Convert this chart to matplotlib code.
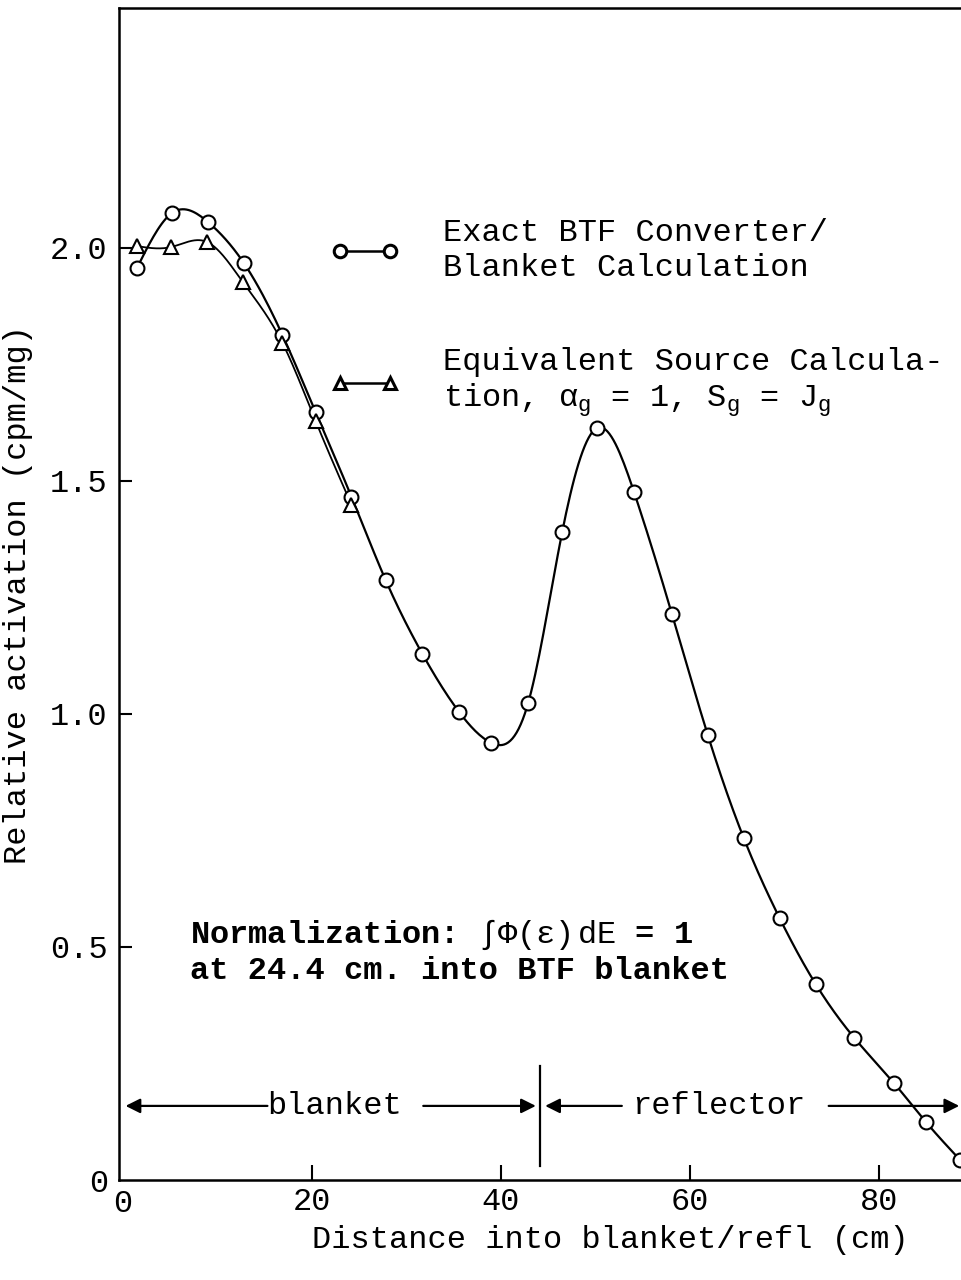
import numpy as np
import matplotlib
matplotlib.use("Agg")
import matplotlib.pyplot as plt

# exact BTF converter/blanket calculation (circles)
exact_x = [1.5, 5.2, 9.0, 12.8, 16.9, 20.4, 24.2, 27.8, 31.7, 35.6, 39.0, 42.9,
           46.5, 50.2, 54.1, 58.1, 61.9, 65.7, 69.5, 73.3, 77.4, 81.6, 85.0, 88.6]
exact_y = [1.957, 2.075, 2.056, 1.968, 1.813, 1.648, 1.466, 1.288, 1.129, 1.004,
           0.938, 1.024, 1.391, 1.614, 1.476, 1.215, 0.955, 0.734, 0.562, 0.421,
           0.305, 0.208, 0.124, 0.043]

# equivalent source calculation (triangles)
equiv_x = [1.5, 5.1, 8.9, 12.7, 16.9, 20.4, 24.2]
equiv_y = [2.004, 2.002, 2.013, 1.927, 1.796, 1.629, 1.449]

x_ticks = [20, 40, 60, 80]
y_ticks = [0, 0.5, 1.0, 1.5, 2.0]
y_tick_labels = ["0", "0.5", "1.0", "1.5", "2.0"]
blanket_edge = 44.2
region_y = 0.159

FS = 23
plt.rcParams['font.family'] = ['Liberation Mono', 'DejaVu Sans']
plt.rcParams['mathtext.fontset'] = 'custom'
plt.rcParams['mathtext.rm'] = 'Liberation Mono'
plt.rcParams['mathtext.it'] = 'Liberation Mono'


def spline(x, y, n=400):
    # natural cubic spline through the points
    x = np.asarray(x, float)
    y = np.asarray(y, float)
    k = len(x)
    h = np.diff(x)
    A = np.zeros((k, k))
    b = np.zeros(k)
    A[0, 0] = A[-1, -1] = 1
    for i in range(1, k - 1):
        A[i, i - 1] = h[i - 1]
        A[i, i] = 2 * (h[i - 1] + h[i])
        A[i, i + 1] = h[i]
        b[i] = 6 * ((y[i + 1] - y[i]) / h[i] - (y[i] - y[i - 1]) / h[i - 1])
    m = np.linalg.solve(A, b)
    xs = np.linspace(x[0], x[-1], n)
    j = np.clip(np.searchsorted(x, xs) - 1, 0, k - 2)
    t0 = x[j + 1] - xs
    t1 = xs - x[j]
    hj = h[j]
    ys = (m[j] * t0 ** 3 + m[j + 1] * t1 ** 3) / (6 * hj) \
        + (y[j] / hj - m[j] * hj / 6) * t0 + (y[j + 1] / hj - m[j + 1] * hj / 6) * t1
    return xs, ys


fig = plt.figure(figsize=(9.62, 12.8), dpi=100)
ax = fig.add_axes([119 / 962, 1 - 1180 / 1280, 1 - 119 / 962, (1180 - 8) / 1280])

sx, sy = spline(exact_x, exact_y)
ax.plot(sx, sy, color='black', lw=1.6)
tx, ty = spline(equiv_x, equiv_y)
ax.plot(tx, ty, color='black', lw=1.3)
ax.plot(exact_x, exact_y, 'o', ms=10, mfc='white', mec='black', mew=1.5)
ax.plot(equiv_x, equiv_y, '^', ms=10, mfc='white', mec='black', mew=1.5)

# legend
h1, = ax.plot([], [], '-o', color='black', lw=1.8, ms=9, mfc='white', mew=2.2)
h2, = ax.plot([], [], '-^', color='black', lw=1.8, ms=9, mfc='white', mew=2.2)
ax.legend([h1, h2],
          ["Exact BTF Converter/\nBlanket Calculation",
           "Equivalent Source Calcula-\ntion, $\\alpha_g$ = 1, $S_g$ = $J_g$"],
          numpoints=2, frameon=False, fontsize=FS, handlelength=2.17,
          handletextpad=1.36, labelspacing=2.0,
          loc='upper left', bbox_to_anchor=(0.2166, 0.845))

ax.text(7.1, 0.49, "Normalization: $\\int\\Phi(\\epsilon)\\,dE$ = 1",
        fontsize=FS, fontweight='bold', va='bottom')
ax.text(7.1, 0.48, "at 24.4 cm. into BTF blanket",
        fontsize=FS, fontweight='bold', va='top')

# blanket / reflector regions
arrow = dict(arrowstyle='-|>', color='black', lw=1.6, mutation_scale=22)
ax.text(22.4, region_y, "blanket", fontsize=FS, ha='center', va='center')
ax.annotate('', xy=(0, region_y), xytext=(15.6, region_y), arrowprops=arrow)
ax.annotate('', xy=(blanket_edge - 0.2, region_y), xytext=(31.5, region_y), arrowprops=arrow)
ax.text(63.1, region_y, "reflector", fontsize=FS, ha='center', va='center')
ax.annotate('', xy=(blanket_edge + 0.2, region_y), xytext=(53.1, region_y), arrowprops=arrow)
ax.annotate('', xy=(88.8, region_y), xytext=(74.4, region_y), arrowprops=arrow,
            annotation_clip=False)
ax.plot([blanket_edge, blanket_edge], [0.03, 0.245], color='black', lw=1.6)

ax.set_xlim(-0.4, 88.8)
ax.set_ylim(0, 2.515)
ax.set_xticks(x_ticks)
ax.set_yticks(y_ticks)
ax.set_yticklabels(y_tick_labels)
ax.tick_params(axis='x', direction='in', length=11, width=1.5, labelsize=FS, pad=5)
ax.tick_params(axis='y', direction='in', length=9, width=1.5, labelsize=FS, pad=8)
ax.yaxis.get_major_ticks()[0].tick1line.set_visible(False)
ax.text(0, -0.02, "0", fontsize=FS, ha='center', va='top')
ax.spines['right'].set_visible(False)
for s in ['left', 'top', 'bottom']:
    ax.spines[s].set_linewidth(1.8)

ax.set_ylabel("Relative activation (cpm/mg)", fontsize=FS, labelpad=12)
fig.text(610 / 962, 1 - 1240 / 1280, "Distance into blanket/refl (cm)",
         fontsize=FS, ha='center', va='center')

fig.savefig("out.png", dpi=100)
